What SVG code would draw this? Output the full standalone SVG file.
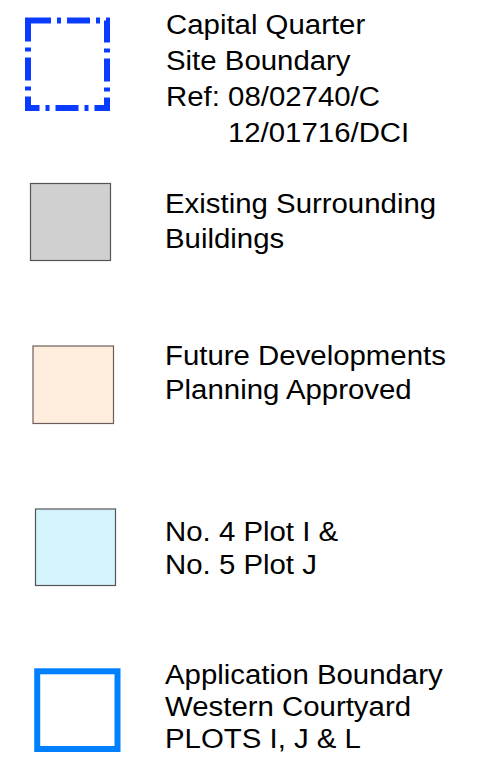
<svg xmlns="http://www.w3.org/2000/svg" width="477" height="764" viewBox="0 0 477 764">
  <style>
    .lbl { font-family: "Liberation Sans", Arial, sans-serif; font-size: 28px; fill: #000; }
    .site { fill: none; stroke: #0a3cff; stroke-width: 6; stroke-dasharray: 23 6 4 6; }
    .existing { fill: #d0d0d0; stroke: #555; stroke-width: 1.2; }
    .future { fill: #feecdc; stroke: #6b5f5a; stroke-width: 1.2; }
    .plots { fill: #d4f3fc; stroke: #555; stroke-width: 1.2; }
    .app { fill: none; stroke: #0080ff; stroke-width: 6; }
  </style>
  <rect width="477" height="764" fill="#fff"/>

  <!-- Capital Quarter site boundary -->
  <g id="site-boundary">
    <rect class="site" x="28" y="20.5" width="79" height="87.5"/>
    <g transform="translate(166,0) scale(1.05,1)">
      <text class="lbl" x="0" y="34">Capital Quarter</text>
      <text class="lbl" x="0" y="70">Site Boundary</text>
      <text class="lbl" x="0" y="106">Ref: 08/02740/C</text>
      <text class="lbl" x="59" y="142">12/01716/DCI</text>
    </g>
  </g>

  <!-- Existing surrounding buildings -->
  <g id="existing-buildings">
    <rect class="existing" x="30.5" y="183.5" width="80" height="77"/>
    <g transform="translate(165,0) scale(1.05,1)">
      <text class="lbl" x="0" y="213.5">Existing Surrounding</text>
      <text class="lbl" x="0" y="248.5">Buildings</text>
    </g>
  </g>

  <!-- Future developments -->
  <g id="future-developments">
    <rect class="future" x="33" y="346" width="80.5" height="77.5"/>
    <g transform="translate(165,0) scale(1.05,1)">
      <text class="lbl" x="0" y="365.5">Future Developments</text>
      <text class="lbl" x="0" y="399.5">Planning Approved</text>
    </g>
  </g>

  <!-- Plots I and J -->
  <g id="plots-i-j">
    <rect class="plots" x="35.5" y="509" width="80" height="76.5"/>
    <g transform="translate(165,0) scale(1.05,1)">
      <text class="lbl" x="0" y="541">No. 4 Plot I &amp;</text>
      <text class="lbl" x="0" y="574">No. 5 Plot J</text>
    </g>
  </g>

  <!-- Application boundary -->
  <g id="application-boundary">
    <rect class="app" x="37.2" y="671.3" width="80.3" height="77.7"/>
    <g transform="translate(165,0) scale(1.05,1)">
      <text class="lbl" x="0" y="684">Application Boundary</text>
      <text class="lbl" x="0" y="716.5">Western Courtyard</text>
      <text class="lbl" x="0" y="748.5">PLOTS I, J &amp; L</text>
    </g>
  </g>
</svg>
